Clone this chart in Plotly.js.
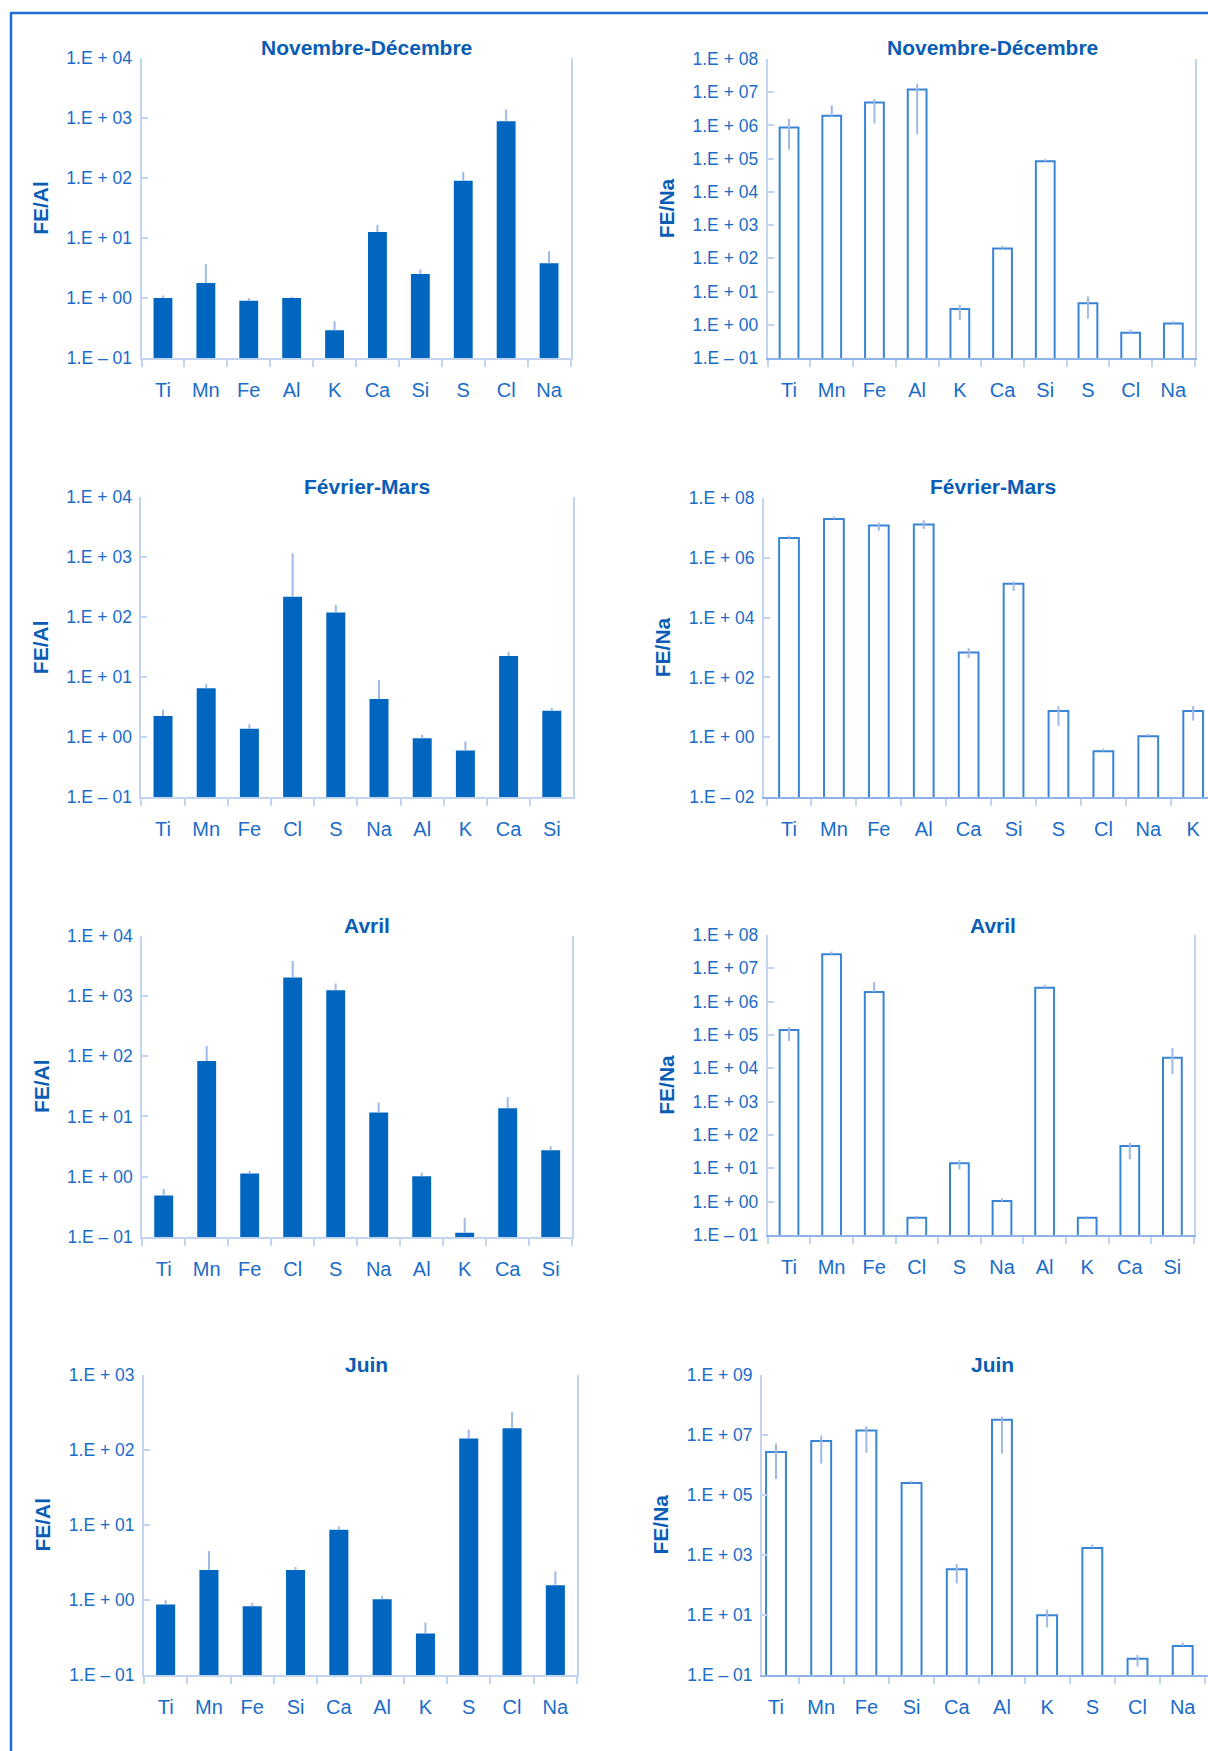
<!DOCTYPE html>
<html>
<head>
<meta charset="utf-8">
<script src="https://cdn.plot.ly/plotly-3.0.1.min.js"></script>
<style>
  html, body { margin: 0; padding: 0; background: #ffffff; }
  #chart { width: 1208px; height: 1751px; }
</style>
</head>
<body>
<div id="chart"></div>
<script>
// ---------------- DATA ----------------
// Novembre-Décembre
const catsNovAl = ['Ti', 'Mn', 'Fe', 'Al', 'K', 'Ca', 'Si', 'S', 'Cl', 'Na'];
const valsNovAl = [1.0, 1.78, 0.9, 1.0, 0.29, 12.6, 2.5, 90, 880, 3.8];
const errUpNovAl = [0.1, 1.9, 0.1, 0.05, 0.12, 4, 0.5, 36, 500, 2.2];

const catsNovNa = ['Ti', 'Mn', 'Fe', 'Al', 'K', 'Ca', 'Si', 'S', 'Cl', 'Na'];
const valsNovNa = [8.7e5, 1.96e6, 4.9e6, 1.2e7, 3.0, 198, 8.3e4, 4.45, 0.58, 1.09];
const errUpNovNa = [7e5, 2e6, 1.4e6, 6e6, 1.0, 42, 1.3e4, 2.6, 0.14, 0.2];
const errDownNovNa = [6.8e5, 0, 3.75e6, 1.146e7, 1.6, 0, 0, 2.9, 0, 0];

// Février-Mars
const catsFevAl = ['Ti', 'Mn', 'Fe', 'Cl', 'S', 'Na', 'Al', 'K', 'Ca', 'Si'];
const valsFevAl = [2.27, 6.56, 1.39, 221, 120, 4.35, 0.96, 0.6, 22.7, 2.78];
const errUpFevAl = [0.6, 1.1, 0.26, 945, 40, 4.65, 0.14, 0.25, 3.9, 0.32];

const catsFevNa = ['Ti', 'Mn', 'Fe', 'Al', 'Ca', 'Si', 'S', 'Cl', 'Na', 'K'];
const valsFevNa = [4.6e6, 2.0e7, 1.2e7, 1.3e7, 680, 1.36e5, 7.5, 0.34, 1.07, 7.5];
const errUpFevNa = [9e5, 4e6, 3e6, 5e6, 270, 2.4e4, 3.3, 0.08, 0.23, 3.5];
const errDownFevNa = [0, 0, 3.9e6, 3.7e6, 240, 5.8e4, 5.1, 0, 0, 3.9];

// Avril
const catsAvrAl = ['Ti', 'Mn', 'Fe', 'Cl', 'S', 'Na', 'Al', 'K', 'Ca', 'Si'];
const valsAvrAl = [0.49, 83, 1.13, 2020, 1236, 11.6, 1.02, 0.118, 13.7, 2.74];
const errUpAvrAl = [0.14, 64, 0.12, 1750, 364, 5.4, 0.15, 0.09, 7.3, 0.46];

const catsAvrNa = ['Ti', 'Mn', 'Fe', 'Cl', 'S', 'Na', 'Al', 'K', 'Ca', 'Si'];
const valsAvrNa = [1.41e5, 2.63e7, 1.95e6, 0.33, 14.1, 1.05, 2.63e6, 0.33, 46.8, 2.09e4];
const errUpAvrNa = [3.3e4, 5.7e6, 1.95e6, 0.04, 3.3, 0.21, 5.7e5, 0.04, 12, 1.9e4];
const errDownAvrNa = [7.5e4, 0, 0, 0, 4.8, 0, 0, 0, 28, 1.43e4];

// Juin
const catsJunAl = ['Ti', 'Mn', 'Fe', 'Si', 'Ca', 'Al', 'K', 'S', 'Cl', 'Na'];
const valsJunAl = [0.87, 2.49, 0.82, 2.49, 8.58, 1.02, 0.358, 141, 193, 1.56];
const errUpJunAl = [0.12, 1.98, 0.09, 0.24, 0.92, 0.11, 0.14, 45, 123, 0.84];

const catsJunNa = ['Ti', 'Mn', 'Fe', 'Si', 'Ca', 'Al', 'K', 'S', 'Cl', 'Na'];
const valsJunNa = [2.63e6, 6.1e6, 1.38e7, 2.45e5, 331, 3.1e7, 9.8, 1700, 0.35, 0.92];
const errUpJunNa = [2.4e6, 3.3e6, 5.2e6, 4.5e4, 160, 9e6, 5.2, 500, 0.11, 0.28];
const errDownJunNa = [2.3e6, 5.0e6, 1.13e7, 0, 219, 2.87e7, 6, 0, 0.16, 0];

// Tick labels
const tickValsAl4 = [0.1, 1, 10, 100, 1000, 10000];
const tickTextAl4 = ['1.E – 01', '1.E + 00', '1.E + 01', '1.E + 02', '1.E + 03', '1.E + 04'];
const tickValsAl3 = [0.1, 1, 10, 100, 1000];
const tickTextAl3 = ['1.E – 01', '1.E + 00', '1.E + 01', '1.E + 02', '1.E + 03'];
const tickValsNa8 = [0.1, 1, 10, 100, 1e3, 1e4, 1e5, 1e6, 1e7, 1e8];
const tickTextNa8 = ['1.E – 01', '1.E + 00', '1.E + 01', '1.E + 02', '1.E + 03', '1.E + 04', '1.E + 05', '1.E + 06', '1.E + 07', '1.E + 08'];
const tickValsNaFev = [0.01, 1, 100, 1e4, 1e6, 1e8];
const tickTextNaFev = ['1.E – 02', '1.E + 00', '1.E + 02', '1.E + 04', '1.E + 06', '1.E + 08'];
const tickValsNaJun = [0.1, 10, 1e3, 1e5, 1e7, 1e9];
const tickTextNaJun = ['1.E – 01', '1.E + 01', '1.E + 03', '1.E + 05', '1.E + 07', '1.E + 09'];

const panelTitles = ['Novembre-Décembre', 'Février-Mars', 'Avril', 'Juin'];
const yTitleAl = 'FE/Al';
const yTitleNa = 'FE/Na';

// ---------------- LAYOUT HELPERS ----------------
const W = 1208, H = 1751;
const xd = (a, b) => [a / W, Math.min(b / W, 1)];
const yd = (top, bottom) => [1 - bottom / H, 1 - top / H];

const BLUE_BAR = '#0066c0';
const BLUE_TEXT = '#0a5db5';
const BLUE_TICK = '#1a6cc8';
const AXIS_LINE = '#c2d4f0';
const AXIS_LINE_NA = '#8fb3e6';
const ERR_COL = '#9fb8e6';
const NA_LINE = '#3a84d6';

const panels = [
  {cats: catsNovAl, vals: valsNovAl, up: errUpNovAl, down: null, kind: 'Al', x: [141.5, 570.5], y: [58, 358], xr: [-0.5, 9.5], yr: [-1, 4], tv: tickValsAl4, tt: tickTextAl4, title: panelTitles[0], tx: 366, ty: 47, mirror: true},
  {cats: catsNovNa, vals: valsNovNa, up: errUpNovNa, down: errDownNovNa, kind: 'Na', x: [767.7, 1194.7], y: [59, 358], xr: [-0.5, 9.5], yr: [-1, 8], tv: tickValsNa8, tt: tickTextNa8, title: panelTitles[0], tx: 993, ty: 47, mirror: true},
  {cats: catsFevAl, vals: valsFevAl, up: errUpFevAl, down: null, kind: 'Al', x: [141.4, 573.4], y: [497.3, 797.3], xr: [-0.5, 9.5], yr: [-1, 4], tv: tickValsAl4, tt: tickTextAl4, title: panelTitles[1], tx: 367, ty: 486.7, mirror: true},
  {cats: catsFevNa, vals: valsFevNa, up: errUpFevNa, down: errDownFevNa, kind: 'Na', x: [764, 1208], y: [498, 797], xr: [-0.557, 9.33], yr: [-2, 8], tv: tickValsNaFev, tt: tickTextNaFev, title: panelTitles[1], tx: 993, ty: 486.7, mirror: false},
  {cats: catsAvrAl, vals: valsAvrAl, up: errUpAvrAl, down: null, kind: 'Al', x: [142.2, 572.2], y: [935.5, 1237], xr: [-0.5, 9.5], yr: [-1, 4], tv: tickValsAl4, tt: tickTextAl4, title: panelTitles[2], tx: 366.5, ty: 925, mirror: true},
  {cats: catsAvrNa, vals: valsAvrNa, up: errUpAvrNa, down: errDownAvrNa, kind: 'Na', x: [767.7, 1193.7], y: [935, 1235], xr: [-0.5, 9.5], yr: [-1, 8], tv: tickValsNa8, tt: tickTextNa8, title: panelTitles[2], tx: 992.7, ty: 925, mirror: true},
  {cats: catsJunAl, vals: valsJunAl, up: errUpJunAl, down: null, kind: 'Al', x: [144, 577], y: [1374.5, 1675], xr: [-0.5, 9.5], yr: [-1, 3], tv: tickValsAl3, tt: tickTextAl3, title: panelTitles[3], tx: 366.5, ty: 1364, mirror: true},
  {cats: catsJunNa, vals: valsJunNa, up: errUpJunNa, down: errDownJunNa, kind: 'Na', x: [762, 1208], y: [1374.5, 1675], xr: [-0.31, 9.56], yr: [-1, 9], tv: tickValsNaJun, tt: tickTextNaJun, title: panelTitles[3], tx: 993, ty: 1364, mirror: false}
];

const traces = [];
const layout = {
  width: W, height: H,
  margin: {l: 0, r: 0, t: 0, b: 0},
  paper_bgcolor: '#ffffff',
  plot_bgcolor: 'rgba(0,0,0,0)',
  showlegend: false,
  bargap: 0.56,
  annotations: [],
  shapes: [{
    type: 'rect', xref: 'paper', yref: 'paper',
    x0: 11 / W, x1: 1.05, y0: -0.05, y1: 1 - 13 / H,
    line: {color: '#1e6ed0', width: 2.5}, fillcolor: 'rgba(0,0,0,0)', layer: 'below'
  }]
};

panels.forEach((p, i) => {
  const n = i + 1;
  const xa = n === 1 ? 'x' : 'x' + n;
  const ya = n === 1 ? 'y' : 'y' + n;
  const err = {
    type: 'data', symmetric: false, array: p.up,
    arrayminus: p.down ? p.down : p.up.map(() => 0),
    color: ERR_COL, thickness: 2, width: 0
  };
  traces.push({
    type: 'bar', x: p.cats, y: p.vals, xaxis: xa, yaxis: ya,
    marker: p.kind === 'Al'
      ? {color: BLUE_BAR, line: {width: 0}}
      : {color: '#ffffff', line: {color: NA_LINE, width: 2}},
    error_y: err,
    hoverinfo: 'x+y'
  });
  layout['xaxis' + (n === 1 ? '' : n)] = {
    anchor: ya, domain: xd(p.x[0], p.x[1]), type: 'category',
    range: p.xr, fixedrange: true,
    showline: true, linecolor: p.kind === 'Na' ? AXIS_LINE_NA : AXIS_LINE, linewidth: 2,
    showgrid: false, zeroline: false,
    ticks: 'outside', tickson: 'boundaries', ticklen: 7, tickwidth: 2, tickcolor: AXIS_LINE,
    ticklabelstandoff: 13,
    tickfont: {family: 'Liberation Sans, Arial, sans-serif', size: 20, color: BLUE_TICK},
    automargin: false
  };
  layout['yaxis' + (n === 1 ? '' : n)] = {
    anchor: xa, domain: yd(p.y[0], p.y[1]), type: 'log',
    range: p.yr, fixedrange: true,
    tickmode: 'array', tickvals: p.tv, ticktext: p.tt,
    showline: true, linecolor: AXIS_LINE, linewidth: 2, mirror: p.mirror,
    showgrid: false, zeroline: false,
    ticks: 'inside', ticklen: 6, tickwidth: 2, tickcolor: AXIS_LINE,
    ticklabelstandoff: 4,
    tickfont: {family: 'Liberation Sans, Arial, sans-serif', size: 17.5, color: BLUE_TICK},
    title: {
      text: p.kind === 'Al' ? yTitleAl : yTitleNa,
      font: {family: 'Liberation Sans, Arial, sans-serif', size: 21, color: BLUE_TEXT, weight: 'bold'},
      standoff: 12
    },
    automargin: false
  };
  layout.annotations.push({
    xref: 'paper', yref: 'paper', x: p.tx / W, y: 1 - p.ty / H,
    xanchor: 'center', yanchor: 'middle', showarrow: false,
    text: '<b>' + p.title + '</b>',
    font: {family: 'Liberation Sans, Arial, sans-serif', size: 21, color: BLUE_TEXT}
  });
});

Plotly.newPlot('chart', traces, layout, {displayModeBar: false, staticPlot: true});
</script>
</body>
</html>
